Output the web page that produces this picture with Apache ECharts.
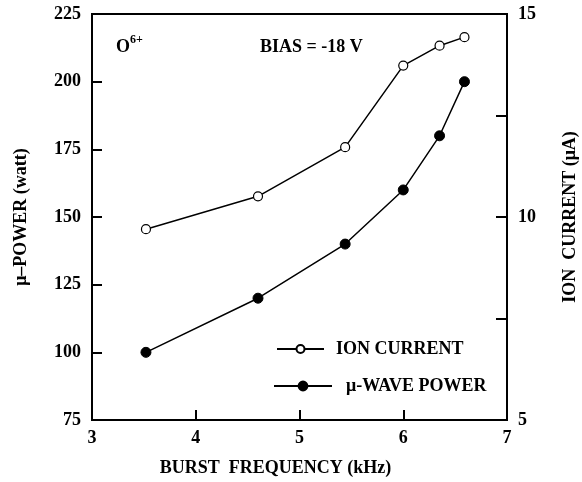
<!DOCTYPE html>
<html>
<head>
<meta charset="utf-8">
<script src="https://cdn.jsdelivr.net/npm/echarts@6/dist/echarts.min.js"></script>
<style>
html,body{margin:0;padding:0;background:#fff;}
#c{width:582px;height:482px;}
</style>
</head>
<body>
<div id="c"></div>
<script>
var frequency = [3.52, 4.6, 5.44, 6.0, 6.35, 6.59];
var waveSeriesPower = [100, 120, 140, 160, 180, 200];
var ionCurrent = [9.70, 10.51, 11.72, 13.73, 14.22, 14.43];
var xTicks = [3, 4, 5, 6, 7];
var powerTicks = [75, 100, 125, 150, 175, 200, 225];
var currentTickLabels = [5, 10, 15];

var FONT = '"Liberation Serif", "Times New Roman", serif';
function pairs(xs, ys){ return xs.map(function(x,i){ return [x, ys[i]]; }); }

var chart = echarts.init(document.getElementById('c'), null, {renderer:'canvas'});
var labelStyle = {color:'#000', fontFamily:FONT, fontWeight:'bold', fontSize:18};
chart.setOption({
  backgroundColor:'#fff',
  animation:false,
  grid:{left:92, right:75, top:14, bottom:62, show:true, borderColor:'#000', borderWidth:2, backgroundColor:'transparent', containLabel:false, outerBoundsMode:'none'},
  xAxis:{
    type:'value', min:xTicks[0], max:xTicks[xTicks.length-1], interval:1,
    name:'BURST  FREQUENCY (kHz)', nameLocation:'middle', nameGap:39,
    nameTextStyle:{color:'#000', fontFamily:FONT, fontWeight:'bold', fontSize:18, padding:[0,48,0,0]},
    axisLine:{show:true, lineStyle:{color:'#000', width:2}},
    axisTick:{show:true, inside:true, length:10, lineStyle:{color:'#000', width:2}},
    axisLabel:Object.assign({margin:9}, labelStyle),
    splitLine:{show:false}
  },
  yAxis:[{
    type:'value', min:powerTicks[0], max:powerTicks[powerTicks.length-1], interval:25,
    name:'μ–POWER (watt)', nameLocation:'middle', nameGap:62, nameRotate:90,
    nameTextStyle:{color:'#000', fontFamily:FONT, fontWeight:'bold', fontSize:18},
    axisLine:{show:true, lineStyle:{color:'#000', width:2}},
    axisTick:{show:true, inside:true, length:10, lineStyle:{color:'#000', width:2}},
    axisLabel:Object.assign({margin:11}, labelStyle),
    splitLine:{show:false}
  },{
    type:'value', position:'right', min:5, max:15, interval:2.5,
    name:'ION  CURRENT (μA)', nameLocation:'middle', nameGap:54, nameRotate:90,
    nameTextStyle:{color:'#000', fontFamily:FONT, fontWeight:'bold', fontSize:18},
    axisLine:{show:true, lineStyle:{color:'#000', width:2}},
    axisTick:{show:true, inside:true, length:11, lineStyle:{color:'#000', width:2}},
    axisLabel:Object.assign({margin:11, formatter:function(v){ return currentTickLabels.indexOf(v) >= 0 ? String(v) : ''; }}, labelStyle),
    splitLine:{show:false}
  }],
  legend:[{
    data:['ION CURRENT'], left:271, top:335, orient:'vertical',
    itemWidth:47, itemHeight:10,
    textStyle:{color:'#000', fontFamily:FONT, fontWeight:'bold', fontSize:18, padding:[0,0,0,7]}
  },{
    data:['μ-WAVE POWER'], left:268, top:372, orient:'vertical',
    itemWidth:58, itemHeight:11,
    textStyle:{color:'#000', fontFamily:FONT, fontWeight:'bold', fontSize:18, padding:[0,0,0,9]}
  }],
  graphic:[
    {type:'text', left:116, top:38, style:{text:'O', fill:'#000', font:'bold 18px ' + FONT}},
    {type:'text', left:130, top:34, style:{text:'6+', fill:'#000', font:'bold 12px ' + FONT}},
    {type:'text', left:260, top:38, style:{text:'BIAS = -18 V', fill:'#000', font:'bold 18px ' + FONT}}
  ],
  series:[{
    name:'ION CURRENT', type:'line', yAxisIndex:1,
    data:pairs(frequency, ionCurrent),
    symbol:'circle', symbolSize:9,
    lineStyle:{color:'#000', width:1.5},
    itemStyle:{color:'#fff', borderColor:'#000', borderWidth:1.2}
  },{
    name:'μ-WAVE POWER', type:'line', yAxisIndex:0,
    data:pairs(frequency, waveSeriesPower),
    symbol:'circle', symbolSize:10,
    lineStyle:{color:'#000', width:1.5},
    itemStyle:{color:'#000', borderColor:'#000', borderWidth:1}
  }]
});
</script>
</body>
</html>
